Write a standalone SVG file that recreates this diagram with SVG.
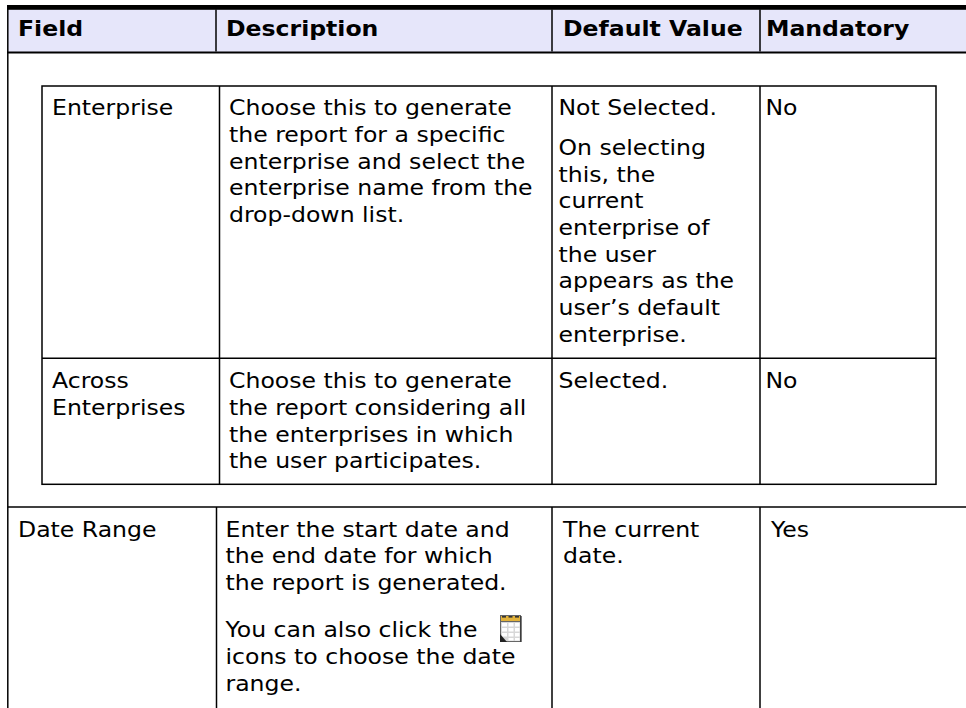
<svg xmlns="http://www.w3.org/2000/svg" width="966" height="708" viewBox="0 0 966 708">
<style>
.t{font-family:"DejaVu Sans",Verdana,"Liberation Sans",sans-serif;font-size:20.5px;fill:#000}
.b{font-weight:bold}
.ln{stroke:#000;stroke-width:1.5;fill:none}
</style>
<rect x="0" y="0" width="966" height="708" fill="#fff"/>
<g id="grid">
<rect x="8" y="9.5" width="958" height="42.5" fill="#E6E6FA"/>
<rect x="7" y="5" width="959" height="4.8" fill="#000"/>
<line x1="7" y1="52.5" x2="966" y2="52.5" stroke="#000" stroke-width="2.2"/>
<line class="ln" x1="7.8" y1="5" x2="7.8" y2="708"/>
<line class="ln" x1="216" y1="9.5" x2="216" y2="51.5"/>
<line class="ln" x1="552" y1="9.5" x2="552" y2="51.5"/>
<line class="ln" x1="760" y1="9.5" x2="760" y2="51.5"/>
<rect class="ln" x="42" y="86" width="894" height="398.3"/>
<line class="ln" x1="219.5" y1="86" x2="219.5" y2="484.3"/>
<line class="ln" x1="552" y1="86" x2="552" y2="484.3"/>
<line class="ln" x1="760" y1="86" x2="760" y2="484.3"/>
<line class="ln" x1="42" y1="358.3" x2="936" y2="358.3"/>
<line class="ln" x1="7.8" y1="507" x2="966" y2="507"/>
<line class="ln" x1="216.5" y1="507" x2="216.5" y2="708"/>
<line class="ln" x1="552" y1="507" x2="552" y2="708"/>
<line class="ln" x1="760" y1="507" x2="760" y2="708"/>
</g>
<g id="header">
<g id="h-field" transform="translate(18,36) scale(1.15,1)"><text class="t b">Field</text></g>
<g id="h-desc" transform="translate(226,36) scale(1.15,1)"><text class="t b">Description</text></g>
<g id="h-default" transform="translate(563,36) scale(1.15,1)"><text class="t b">Default Value</text></g>
<g id="h-mand" transform="translate(766,36) scale(1.15,1)"><text class="t b">Mandatory</text></g>
</g>
<g id="row-enterprise">
<g id="ent-field" transform="translate(52,115.3) scale(1.15,1)"><text class="t">Enterprise</text></g>
<g id="ent-desc" transform="translate(229,115.3) scale(1.15,1)"><text class="t"><tspan x="0" y="0">Choose this to generate</tspan><tspan x="0" y="26.7">the report for a specific</tspan><tspan x="0" y="53.4">enterprise and select the</tspan><tspan x="0" y="80.1">enterprise name from the</tspan><tspan x="0" y="106.8">drop-down list.</tspan></text></g>
<g id="ent-default" transform="translate(558.5,115.3) scale(1.15,1)"><text class="t"><tspan x="0" y="0">Not Selected.</tspan><tspan x="0" y="39.7">On selecting</tspan><tspan x="0" y="66.4">this, the</tspan><tspan x="0" y="93.1">current</tspan><tspan x="0" y="119.8">enterprise of</tspan><tspan x="0" y="146.5">the user</tspan><tspan x="0" y="173.2">appears as the</tspan><tspan x="0" y="199.9">user’s default</tspan><tspan x="0" y="226.6">enterprise.</tspan></text></g>
<g id="ent-mand" transform="translate(765.5,115.3) scale(1.15,1)"><text class="t">No</text></g>
</g>
<g id="row-across">
<g id="acr-field" transform="translate(52,388.3) scale(1.15,1)"><text class="t"><tspan x="0" y="0">Across</tspan><tspan x="0" y="26.7">Enterprises</tspan></text></g>
<g id="acr-desc" transform="translate(229,388.3) scale(1.15,1)"><text class="t"><tspan x="0" y="0">Choose this to generate</tspan><tspan x="0" y="26.7">the report considering all</tspan><tspan x="0" y="53.4">the enterprises in which</tspan><tspan x="0" y="80.1">the user participates.</tspan></text></g>
<g id="acr-default" transform="translate(558.5,388.3) scale(1.15,1)"><text class="t">Selected.</text></g>
<g id="acr-mand" transform="translate(765.5,388.3) scale(1.15,1)"><text class="t">No</text></g>
</g>
<g id="row-date">
<g id="date-field" transform="translate(18,536.7) scale(1.15,1)"><text class="t">Date Range</text></g>
<g id="date-desc" transform="translate(225.5,536.7) scale(1.15,1)"><text class="t"><tspan x="0" y="0">Enter the start date and</tspan><tspan x="0" y="26.7">the end date for which</tspan><tspan x="0" y="53.3">the report is generated.</tspan><tspan x="0" y="100.6">You can also click the</tspan><tspan x="0" y="127.3">icons to choose the date</tspan><tspan x="0" y="154">range.</tspan></text></g>
<g id="date-default" transform="translate(563,536.7) scale(1.15,1)"><text class="t"><tspan x="0" y="0">The current</tspan><tspan x="0" y="26.7">date.</tspan></text></g>
<g id="date-mand" transform="translate(771,536.7) scale(1.15,1)"><text class="t">Yes</text></g>
<g id="calendar-icon">
<rect x="500.5" y="615.5" width="20" height="26" fill="#d8d8d8" stroke="#666" stroke-width="1"/>
<rect x="500.5" y="615.5" width="20" height="6" fill="#E2B23A" stroke="#666" stroke-width="1"/>
<rect x="502" y="616" width="4" height="1.6" fill="#333"/>
<rect x="508.5" y="616" width="4" height="1.6" fill="#333"/>
<rect x="515" y="616" width="4" height="1.6" fill="#333"/>
<g fill="#fff">
<rect x="502" y="623" width="5" height="3.5"/><rect x="508.5" y="623" width="5" height="3.5"/><rect x="515" y="623" width="4.5" height="3.5"/>
<rect x="502" y="628" width="5" height="3.5"/><rect x="508.5" y="628" width="5" height="3.5"/><rect x="515" y="628" width="4.5" height="3.5"/>
<rect x="502" y="633" width="5" height="3.5"/><rect x="508.5" y="633" width="5" height="3.5"/><rect x="515" y="633" width="4.5" height="3.5"/>
<rect x="508.5" y="638" width="5" height="2.5"/><rect x="515" y="638" width="4.5" height="2.5"/>
</g>
<polygon points="500,634 507,642 500,642" fill="#222"/>
<line x1="521" y1="616" x2="521" y2="642" stroke="#222" stroke-width="1.2"/>
</g>
</g>
</svg>
